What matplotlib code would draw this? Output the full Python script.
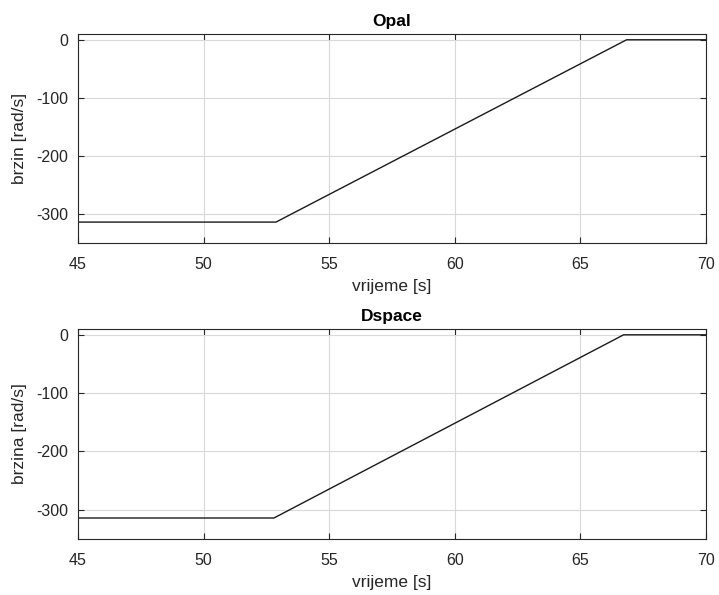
import numpy as np
import matplotlib.pyplot as plt

plt.rcParams['font.family'] = ['Liberation Sans', 'DejaVu Sans']
plt.rcParams['axes.unicode_minus'] = False

# breakpoints of the speed profile
opal_t = [45.0, 52.88, 66.84, 70.0]
opal_w = [-314.0, -314.0, 0.0, 0.0]
dspace_t = [45.0, 52.80, 66.72, 70.0]
dspace_w = [-314.0, -314.0, 0.0, 0.0]

x_ticks = [45, 50, 55, 60, 65, 70]
y_ticks = [-300, -200, -100, 0]

panels = [
    ('Opal', 'brzin [rad/s]', opal_t, opal_w, [0.1085, 0.5916, 0.8734, 0.3513]),
    ('Dspace', 'brzina [rad/s]', dspace_t, dspace_w, [0.1085, 0.0941, 0.8734, 0.3530]),
]

fig = plt.figure(figsize=(7.19, 5.95), dpi=100)
txt = '#262626'

for title, ylabel, t, w, pos in panels:
    ax = fig.add_axes(pos)
    ax.plot(t, w, color='#1a1a1a', lw=1.0)
    ax.set_xlim(45, 70)
    ax.set_ylim(-350, 10)
    ax.set_xticks(x_ticks)
    ax.set_yticks(y_ticks)
    ax.grid(True, color='#d9d9d9', lw=0.8)
    ax.tick_params(direction='in', top=True, right=True, labelsize=11.5,
                   colors=txt, length=4, width=0.8)
    ax.tick_params(axis='x', pad=10)
    ax.tick_params(axis='y', pad=7)
    for s in ax.spines.values():
        s.set_color(txt)
        s.set_linewidth(0.8)
    ax.set_xlabel('vrijeme [s]', fontsize=12.5, color=txt, labelpad=5)
    ax.set_ylabel(ylabel, fontsize=12.5, color=txt, labelpad=7)
    ax.set_title(title, fontsize=12.5, fontweight='bold', color='black', pad=6)

fig.savefig('out.png', dpi=100)
